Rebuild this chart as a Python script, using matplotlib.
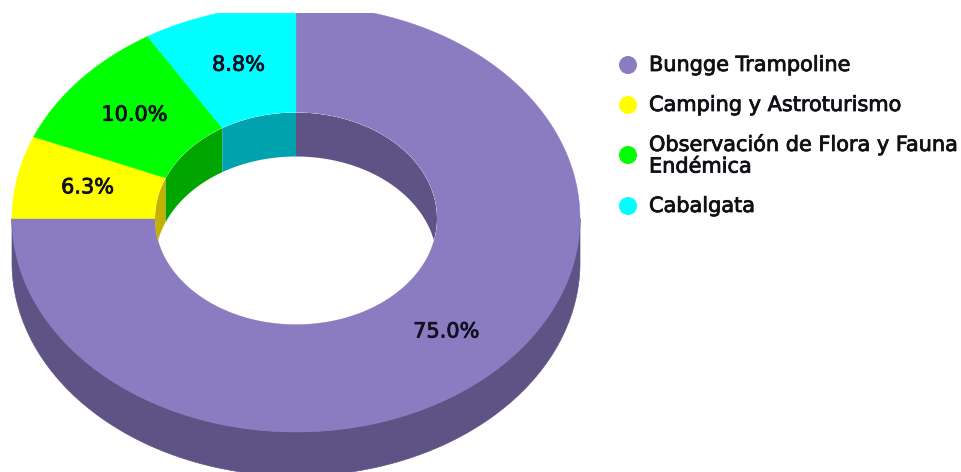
import numpy as np
from matplotlib import pyplot as plt
from matplotlib import patheffects as pe
from matplotlib.patches import Circle, Polygon, Rectangle

# donut 3d drawn by hand, matplotlib has no such chart
categories = ["Bungge Trampoline", "Camping y Astroturismo",
              "Observación de Flora y Fauna\nEndémica", "Cabalgata"]
counts = [60, 5, 8, 7]
pct_labels = ["75.0%", "6.3%", "10.0%", "8.8%"]
top_colors = ["#8B7BC0", "#FFFF00", "#00FF00", "#00FFFF"]
side_colors = ["#5F5386", "#C4B000", "#00A500", "#00A3AD"]

cx, cy = 296, 218.5
rx_out, ry_out = 284, 213.5
rx_in, ry_in = 141, 106
depth = 44
clip_top = 13

fig = plt.figure(figsize=(9.62, 4.72), dpi=100)
ax = fig.add_axes([0, 0, 1, 1])
ax.set_xlim(0, 962)
ax.set_ylim(472, 0)
ax.axis("off")


def arc(rx, ry, a0, a1, dy=0):
    # angles are clockwise from 12 o'clock
    t = np.linspace(a0, a1, 200)
    return np.column_stack([cx + rx * np.sin(t), cy - ry * np.cos(t) + dy])


shares = np.array(counts) / sum(counts)
edges = np.concatenate([[0], np.cumsum(shares)]) * 2 * np.pi
clip = Rectangle((0, clip_top), 962, 472, transform=ax.transData)
hole = Polygon(arc(rx_in, ry_in, 0, 2 * np.pi), transform=ax.transData)
heavy = [pe.withStroke(linewidth=0.6, foreground="#111122")]

# outer wall first (front half only), then top face, then inner wall inside the hole
for a0, a1, c in zip(edges[:-1], edges[1:], side_colors):
    a0, a1 = np.clip([a0, a1], np.pi / 2, 3 * np.pi / 2)
    if a1 <= a0:
        continue
    pts = np.vstack([arc(rx_out, ry_out, a0, a1), arc(rx_out, ry_out, a0, a1, depth)[::-1]])
    ax.add_patch(Polygon(pts, fc=c, ec=c, lw=0.5, zorder=1))

for a0, a1, c in zip(edges[:-1], edges[1:], top_colors):
    pts = np.vstack([arc(rx_out, ry_out, a0, a1), arc(rx_in, ry_in, a0, a1)[::-1]])
    p = ax.add_patch(Polygon(pts, fc=c, ec=c, lw=0.3, zorder=2))
    p.set_clip_path(clip)

ax.add_patch(Polygon(arc(rx_in, ry_in, 0, 2 * np.pi), fc="white", ec="none", zorder=3))

for a0, a1, c in zip(edges[:-1], edges[1:], side_colors):
    pts = np.vstack([arc(rx_in, ry_in, a0, a1), arc(rx_in, ry_in, a0, a1, depth)[::-1]])
    p = ax.add_patch(Polygon(pts, fc=c, ec="none", zorder=4))
    p.set_clip_path(hole)

for a0, a1, lab in zip(edges[:-1], edges[1:], pct_labels):
    mid = (a0 + a1) / 2
    x = cx + (rx_out + rx_in) / 2 * np.sin(mid)
    y = cy - (ry_out + ry_in) / 2 * np.cos(mid)
    ax.text(x, y, lab, ha="center", va="center", fontsize=15, color="#111122",
            zorder=5, path_effects=heavy)

# legend
legend_y = [65, 105, 155, 206]
for name, c, y in zip(categories, top_colors, legend_y):
    ax.add_patch(Circle((628, y), 9, fc=c, ec="none", zorder=5))
    ax.text(649, y, name, ha="left", va="center", fontsize=15, linespacing=1.1,
            color="#111111", zorder=5, path_effects=heavy)

fig.savefig("out.png", dpi=100)
